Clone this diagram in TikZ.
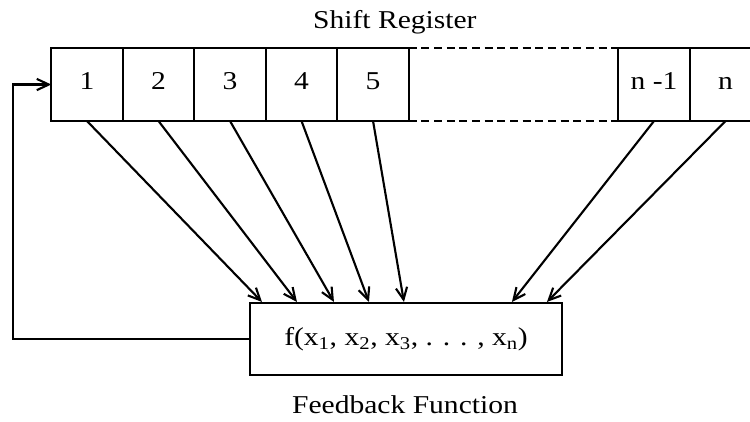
\documentclass[tikz,border=0pt]{standalone}
\usepackage{fontspec}
\setmainfont{Liberation Serif}[FakeStretch=1.15]
\usetikzlibrary{calc, positioning, arrows.meta}

\tikzset{
  cell/.style={draw, minimum width=1.907cm, minimum height=1.947cm, inner sep=0pt, outer sep=0pt,
    text height=0.68em, text depth=0pt},
  tap/.style={-{Straight Barb[length=3.2mm, width=3mm]}}
}

\begin{document}
\begin{tikzpicture}[line width=1.6pt, font=\fontsize{19.5}{22}\selectfont]
  \useasboundingbox (0,0) rectangle (20,11.227);
  \clip (0,0) rectangle (20,11.227);

  % Shift register cells
  \node[cell] (c1) at (2.32,8.973) {1};
  \node[cell, right=0pt of c1] (c2) {2};
  \node[cell, right=0pt of c2] (c3) {3};
  \node[cell, right=0pt of c3] (c4) {4};
  \node[cell, right=0pt of c4] (c5) {5};
  \node[cell] (cm) at (17.44,8.973) {n -1};
  \node[cell, right=0pt of cm] (cn) {n};
  \draw[dash pattern=on 6pt off 3.6pt] (c5.north east) -- (cm.north west)
    (c5.south east) -- (cm.south west);
  \node (reg) at (10.53,10.64) {Shift Register};

  % Feedback function box
  \node[draw, minimum width=8.32cm, minimum height=1.92cm] (fb) at (10.827,2.187)
    {f(x\textsubscript{1}, x\textsubscript{2}, x\textsubscript{3}, . . . , x\textsubscript{n})};
  \node (fun) at (10.8,0.43) {Feedback Function};

  % Taps into the function
  \foreach \c/\t in {c1/0.347, c2/1.28, c3/2.267, c4/3.2, c5/4.133, cm/7.013, cn/7.947}
    {
      \draw[tap] (\c.south) -- ([xshift=\t cm]fb.north west);
    }

  % Feedback path
  \coordinate (turn) at (0.347,0);
  \draw[tap] (fb.west) -| (turn |- c1.west) -- (c1.west);
\end{tikzpicture}
\end{document}
